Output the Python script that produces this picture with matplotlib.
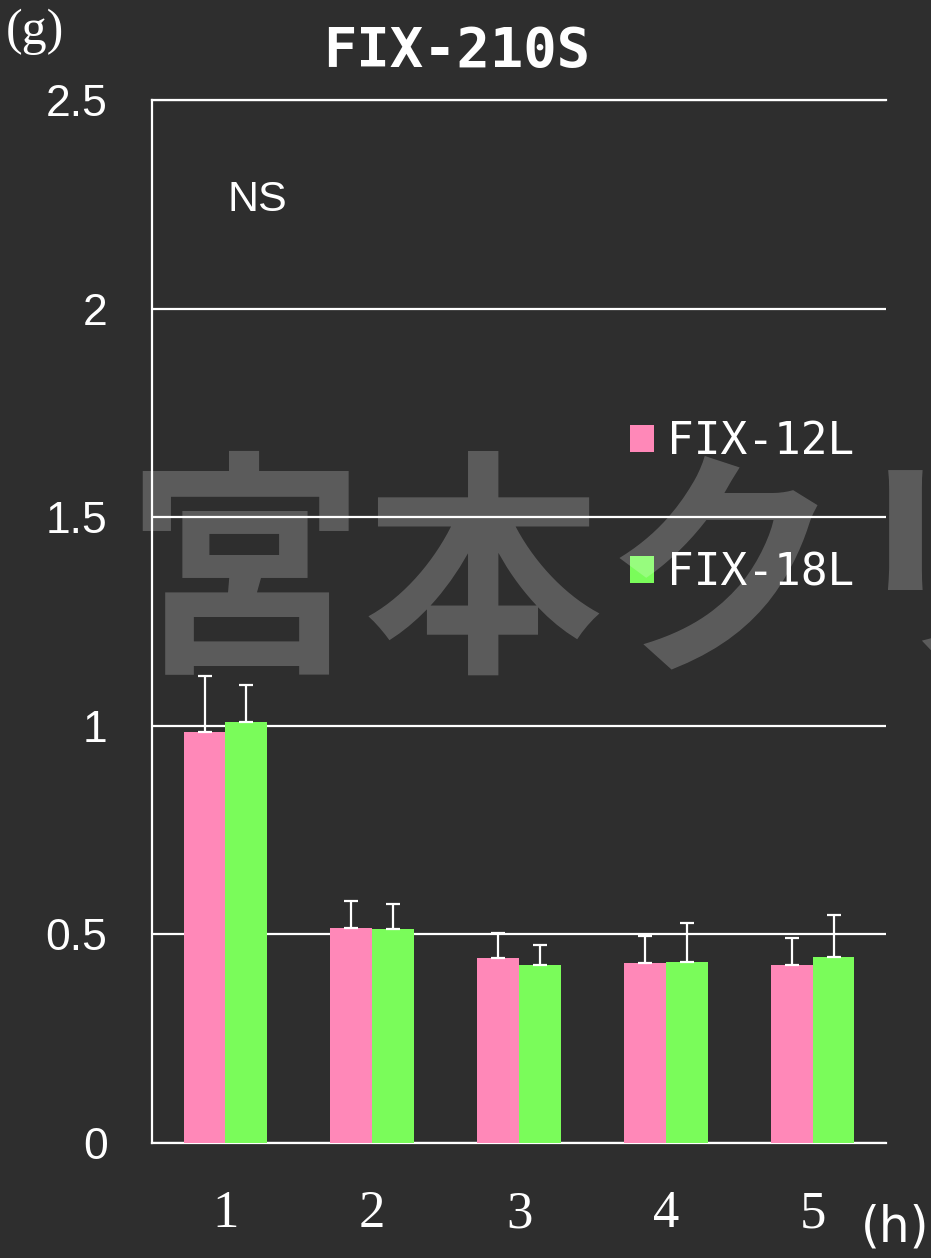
import matplotlib
matplotlib.use('Agg')
import matplotlib.pyplot as plt
import numpy as np

hours = [1, 2, 3, 4, 5]
fix12l = [0.986, 0.515, 0.444, 0.431, 0.427]
fix12l_sd = [0.134, 0.065, 0.059, 0.065, 0.065]
fix18l = [1.010, 0.513, 0.427, 0.434, 0.446]
fix18l_sd = [0.088, 0.060, 0.048, 0.094, 0.100]
yticks = [0, 0.5, 1, 1.5, 2, 2.5]
ytick_labels = ['0', '0.5', '1', '1.5', '2', '2.5']

BG = '#2e2e2e'
PINK = '#ff88b8'
GREEN = '#7afc5a'


def main():
    fig = plt.figure(figsize=(9.31, 12.58), dpi=100, facecolor=BG)
    ax = fig.add_axes([0.1633, 0.0914, 0.7884, 0.8291])
    ax.set_facecolor(BG)

    x = np.array(hours, dtype=float)
    w = 0.285
    ax.bar(x - w / 2, fix12l, width=w, color=PINK, label='FIX-12L', zorder=3)
    ax.bar(x + w / 2, fix18l, width=w, color=GREEN, label='FIX-18L', zorder=3)
    zeros = np.zeros(len(hours))
    ax.errorbar(x - w / 2, fix12l, yerr=[zeros, fix12l_sd], fmt='none', ecolor='white',
                elinewidth=1.6, capsize=5, capthick=1.6, zorder=4)
    ax.errorbar(x + w / 2, fix18l, yerr=[zeros, fix18l_sd], fmt='none', ecolor='white',
                elinewidth=1.6, capsize=5, capthick=1.6, zorder=4)

    ax.set_xlim(0.5, 5.5)
    ax.set_ylim(0, 2.5)
    ax.set_yticks(yticks)
    ax.set_yticklabels(ytick_labels, family='Liberation Sans', fontsize=32, color='white')
    ax.set_xticks(hours)
    ax.set_xticklabels([str(h) for h in hours], family='Liberation Serif', fontsize=38, color='white')
    ax.tick_params(axis='y', length=0, pad=32)
    ax.tick_params(axis='x', length=0, pad=34)
    ax.yaxis.grid(True, color='white', linewidth=1.6, zorder=1)
    ax.set_axisbelow(True)
    ax.spines['right'].set_visible(False)
    for side in ['left', 'bottom', 'top']:
        ax.spines[side].set_color('white')
        ax.spines[side].set_linewidth(1.6)

    ax.text(1.016, 2.26, 'NS', family='Liberation Sans', fontsize=31, color='white',
            ha='left', va='center')

    leg = ax.legend(loc='upper left', bbox_to_anchor=(630 / 931, 1 - 420 / 1258),
                    bbox_transform=fig.transFigure, frameon=False,
                    prop={'family': 'DejaVu Sans Mono', 'size': 32},
                    handlelength=0.54, handleheight=0.54, handletextpad=0.29,
                    labelspacing=1.98, borderpad=0, borderaxespad=0)
    for t in leg.get_texts():
        t.set_color('white')

    fig.text(457 / 931, 1 - 52 / 1258, 'FIX-210S', family='DejaVu Sans Mono', weight='bold',
             fontsize=40, color='white', ha='center', va='center')
    fig.text(6 / 931, 1 - 32 / 1258, '(g)', family='Liberation Serif', fontsize=36,
             color='white', ha='left', va='center')
    fig.text(929 / 931, 1 - 1228 / 1258, '(h)', family='DejaVu Sans', fontsize=35,
             color='white', ha='right', va='center')

    # watermark
    fig.text(125 / 931, 1 - 584 / 1258, '宮本クリニック', family=['Noto Sans CJK JP', 'DejaVu Sans'],
             weight='bold', fontsize=172, color='white', alpha=0.22, ha='left', va='center',
             zorder=10)

    fig.savefig('out.png', dpi=100, facecolor=BG)


if __name__ == "__main__":
    main()
